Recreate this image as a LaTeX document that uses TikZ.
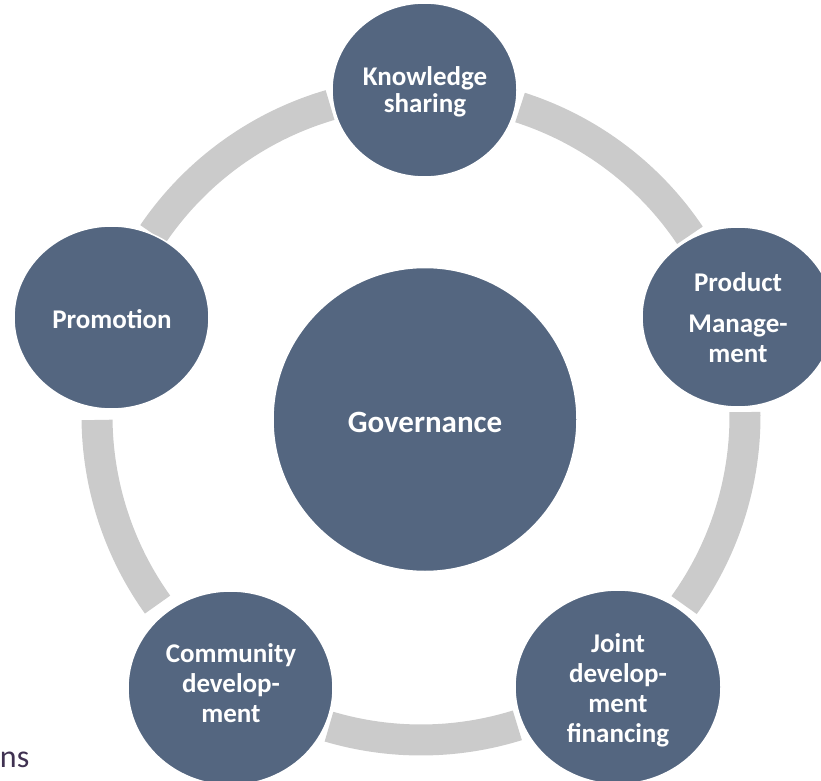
\documentclass[tikz,border=0pt]{standalone}
\usepackage{fontspec}
\setmainfont{Carlito}
\usetikzlibrary{shapes.geometric}
\definecolor{nodeblue}{RGB}{84,102,128}
\definecolor{ringgray}{RGB}{203,203,203}
\definecolor{txtpurple}{RGB}{63,49,81}
\begin{document}
\begin{tikzpicture}[x=1pt,y=1pt,
  bub/.style={ellipse, fill=nodeblue, draw=white, line width=1.5pt, inner sep=0pt},
  lbl/.style={text=white, font=\bfseries\fontsize{27}{30}\selectfont, align=center, inner sep=0pt},
  ringarc/.style={draw=ringgray, line width=31pt}]
\useasboundingbox (0,0) rectangle (821,780);
\coordinate (ctr) at (421,364);
% ring segments
\draw[ringarc] (ctr) ++(72.2:324) arc[start angle=72.2, end angle=33.9, radius=324];
\draw[ringarc] (ctr) ++(0.7:324) arc[start angle=0.7, end angle=-35.7, radius=324];
\draw[ringarc] (ctr) ++(-72.7:324) arc[start angle=-72.7, end angle=-106.5, radius=324];
\draw[ringarc] (ctr) ++(-144.4:324) arc[start angle=-144.4, end angle=-179.3, radius=324];
\draw[ringarc] (ctr) ++(145.8:324) arc[start angle=145.8, end angle=106.3, radius=324];
% circles
\node[bub, minimum width=304pt, minimum height=304pt] (gov) at (425,360.5) {};
\node[bub, minimum width=185pt, minimum height=174pt] (know) at (424.5,690) {};
\node[bub, minimum width=192pt, minimum height=180pt] (prod) at (738,463) {};
\node[bub, minimum width=195pt, minimum height=183pt] (prom) at (111.5,462.5) {};
\node[bub, minimum width=205pt, minimum height=194pt] (comm) at (230.5,92) {};
\node[bub, minimum width=206pt, minimum height=194pt] (joint) at (618,93) {};
% labels
\node[lbl, font=\bfseries\fontsize{31}{34}\selectfont] (govt) at (425,358) {Governance};
\node[lbl, font=\bfseries\fontsize{27}{27.5}\selectfont] (knowt) at (425,688) {Knowledge\\sharing};
\node[lbl] (prodt) at (738,462) {Product\\[11pt]Manage-\\ment};
\node[lbl] (promt) at (112,461) {Promotion};
\node[lbl] (commt) at (231,96.5) {Community\\develop-\\ment};
\node[lbl] (jointt) at (618,90) {Joint\\develop-\\ment\\financing};
% cut-off text
\node[anchor=base east, inner sep=0pt, text=txtpurple, font=\fontsize{32}{36}\selectfont] (ns) at (29.5,13) {ns};
\end{tikzpicture}
\end{document}
